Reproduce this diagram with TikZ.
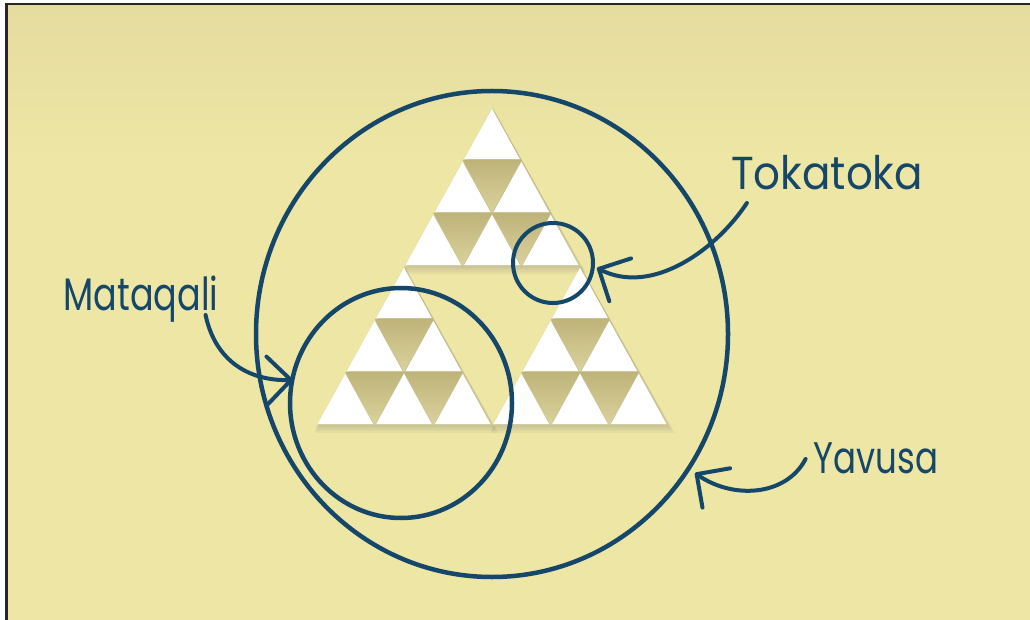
\documentclass[tikz,border=0pt]{standalone}
\usepackage{fontspec}
\newfontfamily\handfont{Poppins}
\usetikzlibrary{positioning,arrows.meta,calc,shapes.geometric}
\definecolor{paper}{HTML}{EDE6A4}
\definecolor{paperdk}{HTML}{E5DC9F}
\definecolor{ink}{HTML}{15476A}
\definecolor{olivedk}{HTML}{BEB47A}
\definecolor{olivelt}{HTML}{DBD29C}
\definecolor{shade}{HTML}{6E6420}

\begin{document}
\begin{tikzpicture}[x=1pt, y=-1pt,
    ring/.style={draw=ink, line width=4.5pt, ellipse, inner sep=0pt},
    pointer/.style={draw=ink, line width=4pt, line cap=round, -{Straight Barb[length=24pt,width=48pt,round]}},
    handlbl/.style={text=ink, font=\handfont\fontsize{#1}{#1}\selectfont, anchor=base, inner sep=0pt, transform shape},
    handlbl/.default=37,
    uptri/.style={fill=white},
    dntri/.style={top color=olivedk, bottom color=olivelt}]
    \useasboundingbox (0,0) rectangle (1030,620);
    \fill[white] (0,0) rectangle (1030,620);
    \fill[black!85] (5,3) rectangle (1030,620);
    \fill[paper] (8,6) rectangle (1030,620);
    \fill[top color=paperdk, bottom color=paper] (8,6) rectangle (1030,160);

    % soft shadow under the three blocks
    \foreach \r/\k in {0/0,3/0,3/3}
      \foreach \d in {2,4,6,8}
        \fill[shade, opacity=0.04]
          ({492+(\k-\r/2)*58.67+\d/3},{107+\r*53+\d-2})
          -- ({492+(\k-\r/2-1.5)*58.67+\d/3-\d/2},{107+(\r+3)*53+\d})
          -- ({492+(\k-\r/2+1.5)*58.67+\d/3+\d/2},{107+(\r+3)*53+\d}) -- cycle;

    \foreach \r/\k in {1/0,2/0,2/1,4/0,5/0,5/1,4/3,5/3,5/4}
      \path[dntri] ({492+(\k-\r/2)*58.67},{107+\r*53})
        -- ({492+(\k-\r/2+1)*58.67},{107+\r*53})
        -- ({492+(\k-\r/2+0.5)*58.67},{107+(\r+1)*53}) -- cycle;

    \foreach \r/\k in {0/0,1/0,1/1,2/0,2/1,2/2,3/0,4/0,4/1,5/0,5/1,5/2,3/3,4/3,4/4,5/3,5/4,5/5}{
      \begin{scope}[shift={({492+(\k-\r/2)*58.67},{107+(\r+0.6667)*53})}, scale=0.95]
        \fill[uptri] (0,-35.33) -- (-29.33,17.67) -- (29.33,17.67) -- cycle;
      \end{scope}
    }

    \node[ring, minimum width=472pt, minimum height=486pt] (yav) at (492,334) {};
    \node[ring, minimum width=222pt, minimum height=230pt] (mat) at (401,403) {};
    \node[ring, line width=4pt, minimum size=80pt] (tok) at (553,263) {};

    \node[handlbl=42, yscale=1.1] (toklbl) at (827,190) {Tokatoka};
    \node[handlbl=35, yscale=1.3] (matlbl) at (141,310) {Mataqali};
    \node[handlbl=34, yscale=1.3] (yavlbl) at (876,473) {Yavusa};

    \draw[pointer] ($(toklbl.base west)+(16,13)$) .. controls +(-31,47) and +(55,28) .. ($(tok.center)+(44,5)$);
    \draw[pointer] ($(matlbl.base east)+(-13,5)$) .. controls +(10,47) and +(-43,1) .. ($(mat.center)+(-108,-23)$);
    \draw[pointer] ($(yavlbl.base west)+(-8,-14)$) .. controls +(-20,38) and +(37,26) .. ($(yav.center)+(203,139)$);
  \end{tikzpicture}
\end{document}
